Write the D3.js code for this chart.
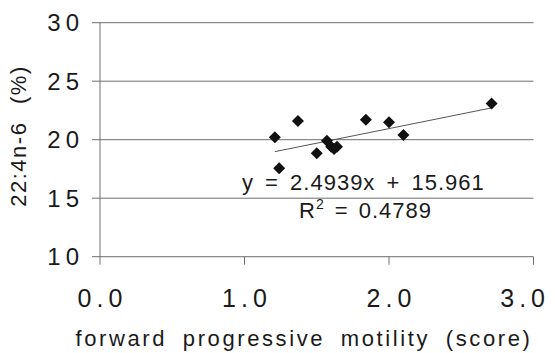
<!DOCTYPE html>
<html>
<head>
<meta charset="utf-8">
<script src="https://cdn.jsdelivr.net/npm/d3@7"></script>
<style>
  html, body { margin: 0; padding: 0; background: #fff; }
  svg { display: block; font-family: "Liberation Sans", Arial, sans-serif; }
</style>
</head>
<body>
<svg id="chart" width="555" height="353"></svg>
<script>
// Forward progressive motility score vs. 22:4n-6 content
const motility = [1.21, 1.37, 1.24, 1.50, 1.57, 1.60, 1.64, 1.62, 1.84, 2.00, 2.10, 2.71];
const fa224n6  = [20.2, 21.6, 17.55, 18.84, 19.9, 19.4, 19.4, 19.2, 21.7, 21.5, 20.4, 23.1];

// Linear fit reported on the chart
const slope = 2.4939;
const intercept = 15.961;
const rSquared = 0.4789;

const xTicks = [0, 1, 2, 3];
const yTicks = [10, 15, 20, 25, 30];

const svg = d3.select("#chart");
const ink = "#1a1a1a";
const gridColor = "#6e6e6e";

const x = d3.scaleLinear().domain([0, 3]).range([100, 533.5]);
const y = d3.scaleLinear().domain([10, 30]).range([256.7, 22.7]);

// horizontal gridlines (also act as the left tick marks)
svg.append("g")
  .selectAll("line")
  .data(yTicks)
  .join("line")
  .attr("x1", x(0) - 8)
  .attr("x2", x(3))
  .attr("y1", d => y(d))
  .attr("y2", d => y(d))
  .attr("stroke", gridColor)
  .attr("stroke-width", 1);

// vertical axis line
svg.append("line")
  .attr("x1", x(0)).attr("x2", x(0))
  .attr("y1", y(30)).attr("y2", y(10) + 8)
  .attr("stroke", gridColor)
  .attr("stroke-width", 1);

// x tick marks below the bottom gridline
svg.append("g")
  .selectAll("line")
  .data(xTicks.slice(1))
  .join("line")
  .attr("x1", d => x(d)).attr("x2", d => x(d))
  .attr("y1", y(10)).attr("y2", y(10) + 8)
  .attr("stroke", gridColor)
  .attr("stroke-width", 1);

// y tick labels
svg.append("g")
  .selectAll("text")
  .data(yTicks)
  .join("text")
  .attr("x", 84)
  .attr("y", d => y(d))
  .attr("dy", "0.36em")
  .attr("text-anchor", "end")
  .attr("font-size", 24)
  .attr("letter-spacing", "5px")
  .attr("fill", ink)
  .text(d => d);

// x tick labels; the last one is pulled in so it stays inside the frame
svg.append("g")
  .selectAll("text")
  .data(xTicks)
  .join("text")
  .attr("x", (d, i) => i === xTicks.length - 1 ? 550 : x(d) + 2.5)
  .attr("y", 307)
  .attr("text-anchor", (d, i) => i === xTicks.length - 1 ? "end" : "middle")
  .attr("font-size", 25)
  .attr("letter-spacing", "5px")
  .attr("fill", ink)
  .text(d => d3.format(".1f")(d));

// axis titles
svg.append("text")
  .attr("x", 304)
  .attr("y", 346)
  .attr("text-anchor", "middle")
  .attr("font-size", 22)
  .attr("letter-spacing", "2.6px")
  .attr("word-spacing", "7px")
  .attr("fill", ink)
  .text("forward progressive motility (score)");

svg.append("text")
  .attr("transform", `translate(26, ${(65 + 207) / 2}) rotate(-90)`)
  .attr("text-anchor", "middle")
  .attr("font-size", 22)
  .attr("letter-spacing", "1.5px")
  .attr("word-spacing", "10px")
  .attr("fill", ink)
  .text("22:4n-6 (%)");

// trendline over the observed motility range
const [xMin, xMax] = d3.extent(motility);
svg.append("line")
  .attr("x1", x(xMin)).attr("y1", y(slope * xMin + intercept))
  .attr("x2", x(xMax)).attr("y2", y(slope * xMax + intercept))
  .attr("stroke", "#555")
  .attr("stroke-width", 1);

// diamond markers
const diamond = d3.symbol().type(d3.symbolSquare).size(72);
svg.append("g")
  .selectAll("path")
  .data(motility.map((m, i) => [m, fa224n6[i]]))
  .join("path")
  .attr("d", diamond)
  .attr("transform", d => `translate(${x(d[0])},${y(d[1])}) rotate(45)`)
  .attr("fill", "#111");

// regression equation and R²
svg.append("text")
  .attr("x", 242)
  .attr("y", 190)
  .attr("font-size", 22)
  .attr("letter-spacing", "1px")
  .attr("word-spacing", "4px")
  .attr("fill", ink)
  .text(`y = ${slope}x + ${intercept}`);

const r2 = svg.append("text")
  .attr("x", 299)
  .attr("y", 218)
  .attr("font-size", 22)
  .attr("letter-spacing", "1px")
  .attr("word-spacing", "3px")
  .attr("fill", ink);
r2.append("tspan").text("R");
r2.append("tspan").attr("font-size", 14).attr("dy", -9).text("2");
r2.append("tspan").attr("dy", 9).text(` = ${rSquared}`);
</script>
</body>
</html>
